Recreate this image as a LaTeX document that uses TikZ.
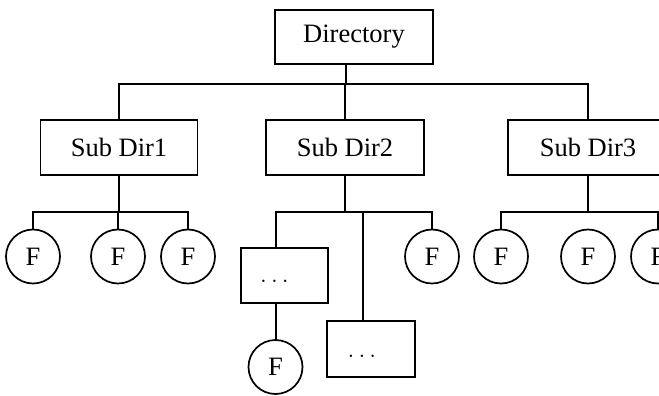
\documentclass[tikz,border=0pt]{standalone}
\usepackage{fontspec}
\setmainfont{Liberation Serif}
\begin{document}
\begin{tikzpicture}[x=1pt,y=-1pt,
  every node/.style={font=\fontsize{26.5}{30}\selectfont, inner sep=0pt},
  box/.style={draw, line width=1.7pt, rectangle},
  dirbox/.style={box, minimum width=157pt, minimum height=55pt},
  leafbox/.style={box, minimum width=87pt, minimum height=55pt},
  filenode/.style={draw, line width=1.7pt, circle, minimum size=54pt},
  link/.style={line width=1.7pt}]
\useasboundingbox (0,0) rectangle (659,396);
\clip (0,0) rectangle (659,396);

% root and first level
\node[dirbox, minimum width=158pt, minimum height=54pt] (dir) at (354,37) {Directory};
\node[dirbox] (sd1) at (119,147.5) {Sub Dir1};
\node[dirbox, minimum width=158pt] (sd2) at (345,147.5) {Sub Dir2};
\node[dirbox, minimum width=160pt] (sd3) at (588,147.5) {Sub Dir3};

\coordinate (bus0) at (0,84);
\coordinate (bus1) at (0,212);

\draw[link] ([xshift=-8pt]dir.south) -- ([xshift=-8pt]dir.south |- bus0);
\draw[link] (sd1.north) -- (sd1.north |- bus0) -- (sd3.north |- bus0) -- (sd3.north);
\draw[link] (sd2.north) -- (sd2.north |- bus0);

% files under Sub Dir1
\node[filenode] (c11) at (33,256.5) {$\mathrm{F}$};
\node[filenode] (c12) at (118,256.5) {$\mathrm{F}$};
\node[filenode] (c13) at (188,256.5) {$\mathrm{F}$};
\draw[link] (sd1.south) -- (sd1.south |- bus1);
\draw[link] (c11.north) -- (c11.north |- bus1) -- (c13.north |- bus1) -- (c13.north);
\draw[link] (c12.north) -- (c12.north |- bus1);

% entries under Sub Dir2
\node[leafbox] (r21) at (284.5,275.5) {};
\node (d21) at ([shift={(-10,6)}]r21.center) {$\ldots$};
\node[filenode] (c21) at (275.5,367) {$\mathrm{F}$};
\node[leafbox, minimum width=88pt, minimum height=56pt] (r22) at (371,349) {};
\node (d22) at ([shift={(-9,7)}]r22.center) {$\ldots$};
\node[filenode] (c23) at (432,256.5) {$\mathrm{F}$};
\coordinate (j21) at (276,212);
\coordinate (j22) at (363,212);
\draw[link] (sd2.south) -- (sd2.south |- bus1);
\draw[link] (j21 |- r21.north) -- (j21) -- (c23.north |- bus1) -- (c23.north);
\draw[link] (j22) -- (j22 |- r22.north);
\draw[link] (j21 |- r21.south) -- (j21 |- c21.north);

% files under Sub Dir3
\node[filenode] (c31) at (501,256.5) {$\mathrm{F}$};
\node[filenode] (c32) at (588,256.5) {$\mathrm{F}$};
\node[filenode] (c33) at (658,256.5) {$\mathrm{F}$};
\draw[link] (sd3.south) -- (sd3.south |- bus1);
\draw[link] (c31.north) -- (c31.north |- bus1) -- (c33.north |- bus1) -- (c33.north);
\end{tikzpicture}
\end{document}
